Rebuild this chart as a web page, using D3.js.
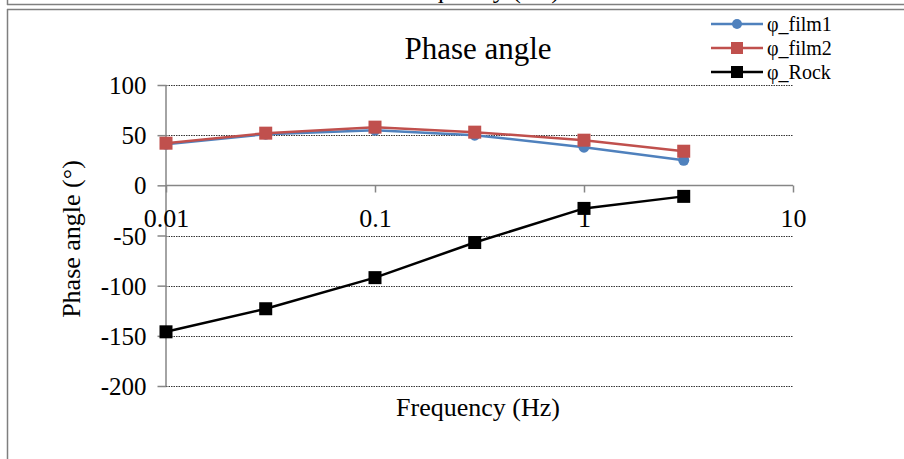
<!DOCTYPE html>
<html>
<head>
<meta charset="utf-8">
<script src="https://cdn.jsdelivr.net/npm/d3@7"></script>
<style>
  body { margin: 0; background: #fff; }
  svg { display: block; font-family: "Liberation Serif", "Times New Roman", serif; }
  svg text { font-family: "Liberation Serif", "Times New Roman", serif; fill: #000; }
</style>
</head>
<body>
<div class="content"></div>
<script>
var frequencies = [0.01, 0.03, 0.1, 0.3, 1, 3];
var film1 = [41, 51, 55, 50, 38, 25];
var film2 = [42, 52, 58, 53, 45, 34];
var rock = [-146, -123, -92, -57, -23, -11];
var xTicks = [0.01, 0.1, 1, 10];
var xTickLabels = ['0.01', '0.1', '1', '10'];
var yTicks = [100, 50, 0, -50, -100, -150, -200];

var seriesList = [
    { name: 'φ_film1', values: film1, color: '#4F81BD', marker: 'circle' },
    { name: 'φ_film2', values: film2, color: '#C0504D', marker: 'square' },
    { name: 'φ_Rock', values: rock, color: '#000000', marker: 'square' }
];

var chart = {
    width: 904,
    height: 459,
    left: 166,
    right: 793,
    top: 85,
    bottom: 386
};

var svg = d3.select('.content').append('svg')
    .attr('width', chart.width)
    .attr('height', chart.height);

svg.append('rect').attr('width', chart.width).attr('height', chart.height).attr('fill', '#fff');

// cut-off strip of the chart above
svg.append('text')
    .attr('x', 478).attr('y', -2)
    .attr('text-anchor', 'middle')
    .style('font-size', '26px')
    .text('Frequency (Hz)');
svg.append('line').attr('x1', 7.5).attr('x2', 7.5).attr('y1', 0).attr('y2', 5)
    .attr('stroke', '#7f7f7f').attr('stroke-width', 1.5);
svg.append('line').attr('x1', 7).attr('x2', chart.width).attr('y1', 4.5).attr('y2', 4.5)
    .attr('stroke', '#7f7f7f').attr('stroke-width', 1.5);
// chart frame
svg.append('line').attr('x1', 7).attr('x2', chart.width).attr('y1', 9.5).attr('y2', 9.5)
    .attr('stroke', '#7f7f7f').attr('stroke-width', 1.5);
svg.append('line').attr('x1', 7.5).attr('x2', 7.5).attr('y1', 9).attr('y2', chart.height)
    .attr('stroke', '#7f7f7f').attr('stroke-width', 1.5);

var xScale = d3.scaleLog().domain([0.01, 10]).range([chart.left, chart.right]);
var yScale = d3.scaleLinear().domain([-200, 100]).range([chart.bottom, chart.top]);

// gridlines
svg.append('g').selectAll('line')
    .data(yTicks.filter(function(d) { return d !== 0; }))
    .enter().append('line')
    .attr('x1', chart.left).attr('x2', chart.right)
    .attr('y1', function(d) { return Math.round(yScale(d)) + 0.5; })
    .attr('y2', function(d) { return Math.round(yScale(d)) + 0.5; })
    .attr('stroke', '#000')
    .attr('stroke-width', 0.8)
    .attr('stroke-dasharray', '1.5,1');

// y axis
var yAxis = svg.append('g')
    .attr('transform', 'translate(' + (chart.left + 0.5) + ',0)')
    .call(d3.axisLeft(yScale).tickValues(yTicks).tickSize(9).tickPadding(11)
        .tickFormat(function(d) { return String(d); }));
yAxis.selectAll('text').style('font-size', '25px').attr('dy', '0.34em');

// x axis at y = 0
var xAxis = svg.append('g')
    .attr('transform', 'translate(0,' + (Math.round(yScale(0)) + 0.5) + ')')
    .call(d3.axisBottom(xScale).tickValues(xTicks).tickSize(7).tickPadding(16)
        .tickFormat(function(d, i) { return xTickLabels[i]; }));
xAxis.selectAll('text').style('font-size', '26px');

svg.selectAll('.domain').attr('stroke', '#868686').attr('stroke-width', 1.5);
svg.selectAll('.tick line').attr('stroke', '#868686').attr('stroke-width', 1.5);
yAxis.select('.domain').attr('d', 'M-0.5,' + chart.top + 'V' + chart.bottom);
xAxis.select('.domain').attr('d', 'M' + chart.left + ',0H' + chart.right);

// series
var line = d3.line()
    .x(function(d) { return xScale(d.f); })
    .y(function(d) { return yScale(d.v); });

seriesList.forEach(function(s) {
    var pts = s.values.map(function(v, i) { return { f: frequencies[i], v: v }; });
    var g = svg.append('g');
    g.append('path')
        .attr('d', line(pts))
        .attr('fill', 'none')
        .attr('stroke', s.color)
        .attr('stroke-width', 2.5);
    if (s.marker === 'circle') {
        g.selectAll('circle').data(pts).enter().append('circle')
            .attr('cx', function(d) { return xScale(d.f); })
            .attr('cy', function(d) { return yScale(d.v); })
            .attr('r', 5.5)
            .attr('fill', s.color);
    } else {
        g.selectAll('rect').data(pts).enter().append('rect')
            .attr('x', function(d) { return xScale(d.f) - 6.5; })
            .attr('y', function(d) { return yScale(d.v) - 6.5; })
            .attr('width', 13).attr('height', 13)
            .attr('fill', s.color);
    }
});

// titles
svg.append('text')
    .attr('x', 478).attr('y', 59)
    .attr('text-anchor', 'middle')
    .style('font-size', '31px')
    .text('Phase angle');

svg.append('text')
    .attr('x', 478).attr('y', 416)
    .attr('text-anchor', 'middle')
    .style('font-size', '26px')
    .text('Frequency (Hz)');

svg.append('text')
    .attr('transform', 'translate(80,239) rotate(-90)')
    .attr('text-anchor', 'middle')
    .style('font-size', '26px')
    .text('Phase angle (°)');

// legend
var legend = svg.append('g');
seriesList.forEach(function(s, i) {
    var y = 24 + i * 24;
    legend.append('line')
        .attr('x1', 711).attr('x2', 763).attr('y1', y).attr('y2', y)
        .attr('stroke', s.color).attr('stroke-width', 2.5);
    if (s.marker === 'circle') {
        legend.append('circle').attr('cx', 737).attr('cy', y).attr('r', 5).attr('fill', s.color);
    } else {
        legend.append('rect').attr('x', 731).attr('y', y - 6).attr('width', 12).attr('height', 12).attr('fill', s.color);
    }
    legend.append('text')
        .attr('x', 767).attr('y', y + 7)
        .style('font-size', '20px')
        .text(s.name);
});
</script>
</body>
</html>
